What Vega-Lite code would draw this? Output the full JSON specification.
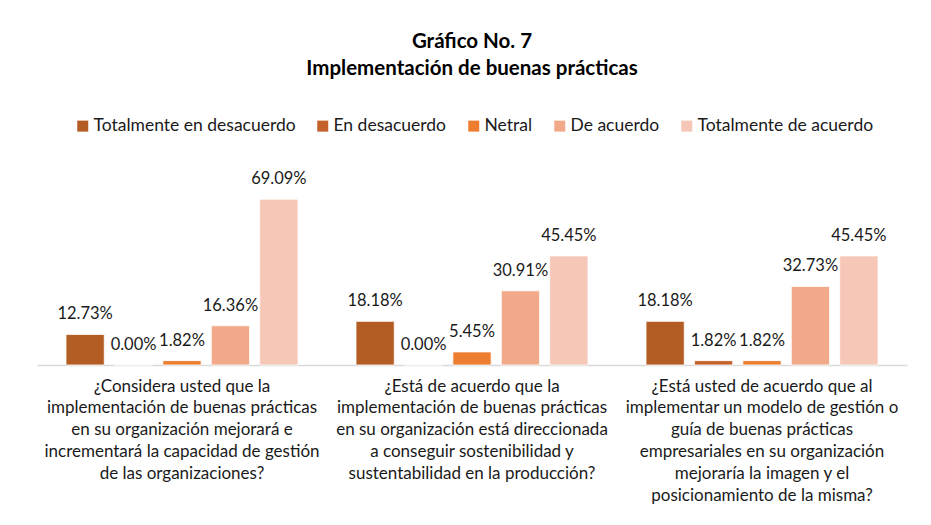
{
  "$schema": "https://vega.github.io/schema/vega-lite/v6.json",
  "width": 870,
  "height": 192,
  "autosize": "none",
  "padding": {"left": 37, "top": 173, "right": 24, "bottom": 160},
  "background": "white",
  "title": {
    "text": ["Gráfico No. 7", "Implementación de buenas prácticas"],
    "font": "Lato",
    "fontSize": 20.5,
    "fontWeight": "bold",
    "color": "#000000",
    "lineHeight": 27,
    "anchor": "middle",
    "offset": 38
  },
  "data": {
    "values": [
      {"pregunta": "¿Considera usted que la\nimplementación de buenas prácticas\nen su organización mejorará e\nincrementará la capacidad de gestión\nde las organizaciones?", "respuesta": "Totalmente en desacuerdo", "valor": 0.1273},
      {"pregunta": "¿Considera usted que la\nimplementación de buenas prácticas\nen su organización mejorará e\nincrementará la capacidad de gestión\nde las organizaciones?", "respuesta": "En desacuerdo", "valor": 0.0},
      {"pregunta": "¿Considera usted que la\nimplementación de buenas prácticas\nen su organización mejorará e\nincrementará la capacidad de gestión\nde las organizaciones?", "respuesta": "Netral", "valor": 0.0182},
      {"pregunta": "¿Considera usted que la\nimplementación de buenas prácticas\nen su organización mejorará e\nincrementará la capacidad de gestión\nde las organizaciones?", "respuesta": "De acuerdo", "valor": 0.1636},
      {"pregunta": "¿Considera usted que la\nimplementación de buenas prácticas\nen su organización mejorará e\nincrementará la capacidad de gestión\nde las organizaciones?", "respuesta": "Totalmente de acuerdo", "valor": 0.6909},
      {"pregunta": "¿Está de acuerdo que la\nimplementación de buenas prácticas\nen su organización está direccionada\na conseguir sostenibilidad y\nsustentabilidad en la producción?", "respuesta": "Totalmente en desacuerdo", "valor": 0.1818},
      {"pregunta": "¿Está de acuerdo que la\nimplementación de buenas prácticas\nen su organización está direccionada\na conseguir sostenibilidad y\nsustentabilidad en la producción?", "respuesta": "En desacuerdo", "valor": 0.0},
      {"pregunta": "¿Está de acuerdo que la\nimplementación de buenas prácticas\nen su organización está direccionada\na conseguir sostenibilidad y\nsustentabilidad en la producción?", "respuesta": "Netral", "valor": 0.0545},
      {"pregunta": "¿Está de acuerdo que la\nimplementación de buenas prácticas\nen su organización está direccionada\na conseguir sostenibilidad y\nsustentabilidad en la producción?", "respuesta": "De acuerdo", "valor": 0.3091},
      {"pregunta": "¿Está de acuerdo que la\nimplementación de buenas prácticas\nen su organización está direccionada\na conseguir sostenibilidad y\nsustentabilidad en la producción?", "respuesta": "Totalmente de acuerdo", "valor": 0.4545},
      {"pregunta": "¿Está usted de acuerdo que al\nimplementar un modelo de gestión o\nguía de buenas prácticas\nempresariales en su organización\nmejoraría la imagen y el\nposicionamiento de la misma?", "respuesta": "Totalmente en desacuerdo", "valor": 0.1818},
      {"pregunta": "¿Está usted de acuerdo que al\nimplementar un modelo de gestión o\nguía de buenas prácticas\nempresariales en su organización\nmejoraría la imagen y el\nposicionamiento de la misma?", "respuesta": "En desacuerdo", "valor": 0.0182},
      {"pregunta": "¿Está usted de acuerdo que al\nimplementar un modelo de gestión o\nguía de buenas prácticas\nempresariales en su organización\nmejoraría la imagen y el\nposicionamiento de la misma?", "respuesta": "Netral", "valor": 0.0182},
      {"pregunta": "¿Está usted de acuerdo que al\nimplementar un modelo de gestión o\nguía de buenas prácticas\nempresariales en su organización\nmejoraría la imagen y el\nposicionamiento de la misma?", "respuesta": "De acuerdo", "valor": 0.3273},
      {"pregunta": "¿Está usted de acuerdo que al\nimplementar un modelo de gestión o\nguía de buenas prácticas\nempresariales en su organización\nmejoraría la imagen y el\nposicionamiento de la misma?", "respuesta": "Totalmente de acuerdo", "valor": 0.4545}
    ]
  },
  "encoding": {
    "x": {
      "field": "pregunta",
      "type": "nominal",
      "sort": null,
      "scale": {"paddingInner": 0.2, "paddingOuter": 0.1},
      "axis": {
        "title": null,
        "labelAngle": 0,
        "labelExpr": "split(datum.label, '\\n')",
        "labelFont": "Lato",
        "labelFontSize": 17,
        "labelColor": "#1a1a1a",
        "labelLineHeight": 21.8,
        "labelPadding": 13,
        "labelBaseline": "top",
        "labelLimit": 0,
        "ticks": false,
        "domainColor": "#D9D9D9",
        "domainWidth": 1.5
      }
    },
    "xOffset": {
      "field": "respuesta",
      "type": "nominal",
      "sort": ["Totalmente en desacuerdo", "En desacuerdo", "Netral", "De acuerdo", "Totalmente de acuerdo"],
      "scale": {"paddingInner": 0.21, "paddingOuter": 0}
    },
    "y": {
      "field": "valor",
      "type": "quantitative",
      "scale": {"domain": [0, 0.8]},
      "axis": null
    }
  },
  "layer": [
    {
      "mark": {"type": "bar", "stroke": "white", "strokeWidth": 0.8},
      "encoding": {
        "color": {
          "field": "respuesta",
          "type": "nominal",
          "sort": ["Totalmente en desacuerdo", "En desacuerdo", "Netral", "De acuerdo", "Totalmente de acuerdo"],
          "scale": {
            "domain": ["Totalmente en desacuerdo", "En desacuerdo", "Netral", "De acuerdo", "Totalmente de acuerdo"],
            "range": ["#B35C24", "#C4612A", "#ED7D31", "#F1A98A", "#F6C6B6"]
          },
          "legend": {
            "title": null,
            "orient": "none",
            "legendX": 37,
            "legendY": -56,
            "direction": "horizontal",
            "symbolType": "square",
            "symbolSize": 121,
            "symbolStrokeWidth": 0,
            "labelFont": "Lato",
            "labelFontSize": 17.5,
            "labelColor": "#1a1a1a",
            "columnPadding": 18,
            "labelOffset": 2,
            "labelLimit": 0
          }
        }
      }
    },
    {
      "mark": {"type": "text", "baseline": "bottom", "dy": -12, "font": "Lato", "fontSize": 16.5, "color": "#1a1a1a"},
      "encoding": {
        "text": {"field": "valor", "type": "quantitative", "format": ".2%"}
      }
    }
  ],
  "config": {
    "view": {"stroke": null}
  }
}
